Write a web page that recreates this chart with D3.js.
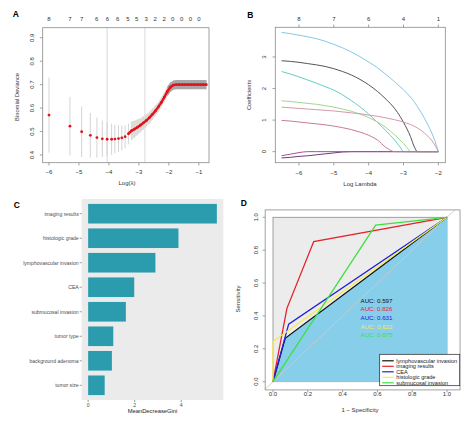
<!DOCTYPE html>
<html><head><meta charset="utf-8">
<script src="https://cdn.jsdelivr.net/npm/d3@7"></script>
<style>
body{margin:0;background:#fff}
svg{display:block}
text{font-family:"Liberation Sans",Arial,Helvetica,sans-serif}
</style>
</head><body>
<svg id="chart" width="474" height="422"></svg>
<script>
// ===== Panel A: cross-validated binomial deviance =====
const cvLogLambda = [-6.0,-5.3,-4.91,-4.62,-4.4,-4.22,-4.06,-3.91,-3.8,-3.68,-3.57,-3.46,-3.35,-3.25,-3.15,-3.05,-2.95,-2.85,-2.75,-2.65,-2.55,-2.45,-2.35,-2.25,-2.15,-2.05,-1.95,-1.85,-1.75,-1.65,-1.55,-1.45,-1.35,-1.25,-1.15,-1.05,-0.95,-0.85,-0.75];
const cvMean = [0.570,0.523,0.499,0.484,0.474,0.469,0.467,0.467,0.468,0.470,0.473,0.478,0.490,0.503,0.510,0.518,0.527,0.537,0.547,0.559,0.573,0.588,0.605,0.624,0.647,0.671,0.689,0.698,0.700,0.700,0.700,0.700,0.700,0.700,0.700,0.700,0.700,0.700,0.700];
const cvSD = [0.160,0.125,0.108,0.095,0.085,0.078,0.072,0.066,0.061,0.057,0.053,0.049,0.045,0.040,0.036,0.033,0.030,0.028,0.026,0.025,0.024,0.023,0.022,0.022,0.021,0.021,0.020,0.020,0.020,0.020,0.020,0.020,0.020,0.020,0.020,0.020,0.020,0.020,0.020];
const cvTopPos = [-6,-5.3,-4.91,-4.41,-4.05,-3.71,-3.37,-3.07,-2.76,-2.46,-2.16,-1.87,-1.57,-1.28,-1.0];
const cvTopLabels = ["8","7","7","6","6","6","5","5","3","2","2","0","0","0","0"];
const cvRefLines = [-4.06,-2.8];
const cvXTicks = [-6,-5,-4,-3,-2,-1];
const cvYTicks = [0.4,0.5,0.6,0.7,0.8,0.9];

// ===== Panel B: coefficient paths =====
const pathLogLambda = [-6.5,-6.25,-6.0,-5.75,-5.5,-5.25,-5.0,-4.75,-4.5,-4.25,-4.0,-3.75,-3.5,-3.25,-3.1,-3.0,-2.9,-2.8,-2.7,-2.6,-2.5,-2.4,-2.3,-2.2,-2.1,-2.0];
const coefLightBlue = [3.78,3.74,3.69,3.64,3.58,3.50,3.40,3.29,3.16,3.01,2.84,2.66,2.44,2.21,2.06,1.96,1.85,1.73,1.59,1.43,1.25,1.06,0.85,0.62,0.35,0];
const coefDark = [2.88,2.86,2.83,2.79,2.75,2.70,2.63,2.54,2.43,2.29,2.12,1.91,1.66,1.36,1.12,0.93,0.72,0.48,0.18,0,0,0,0,0,0,0];
const coefTeal = [2.54,2.46,2.37,2.27,2.17,2.06,1.95,1.80,1.62,1.42,1.19,0.93,0.66,0.36,0.15,0,0,0,0,0,0,0,0,0,0,0];
const coefGreen = [1.61,1.59,1.56,1.53,1.50,1.46,1.41,1.35,1.28,1.19,1.08,0.94,0.76,0.53,0.37,0.26,0.13,0,0,0,0,0,0,0,0,0];
const coefPurple = [-0.20,-0.18,-0.15,-0.13,-0.10,-0.07,-0.04,-0.01,0,0,0,0,0,0,0,0,0,0,0,0,0,0,0,0,0,0];
const coefMagenta = [-0.13,-0.08,-0.03,0,0,0,0,0,0,0,0,0,0,0,0,0,0,0,0,0,0,0,0,0,0,0];
const coefPink = [1.41,1.39,1.37,1.35,1.33,1.31,1.29,1.26,1.23,1.20,1.16,1.12,1.07,1.01,0.97,0.94,0.90,0.86,0.81,0.75,0.68,0.59,0.49,0.37,0.21,0];
const coefRose = [0.99,0.97,0.94,0.91,0.88,0.85,0.81,0.76,0.70,0.62,0.52,0.37,0.13,0,0,0,0,0,0,0,0,0,0,0,0,0];
const pathTopPos = [-6,-5,-4,-3,-2];
const pathTopLabels = ["8","7","6","4","1"];
const pathXTicks = [-6,-5,-4,-3,-2];
const pathYTicks = [0,1,2,3];

// ===== Panel C: random forest importance =====
const giniVars = ["imaging results","histologic grade","lymphovascular invasion","CEA","submucosal invasion","tumor type","background adenoma","tumor size"];
const giniValues = [5.53,3.88,2.89,1.98,1.62,1.08,1.02,0.71];
const giniTicks = [0,2,4];

// ===== Panel D: ROC curves =====
const rocNames = ["lymphovascular invasion","imaging results","CEA","histologic grade","submucosal invasion"];
const rocAUC = ["0.597","0.826","0.631","0.622","0.675"];
const rocLymphFPR = [0,0.07,1],        rocLymphTPR = [0,0.264,1];
const rocImagingFPR = [0,0.08,0.234,1], rocImagingTPR = [0,0.446,0.852,1];
const rocCeaFPR = [0,0.09,1],          rocCeaTPR = [0,0.35,1];
const rocHistoFPR = [0,0,1],           rocHistoTPR = [0,0.244,1];
const rocSubmFPR = [0,0.59,1],         rocSubmTPR = [0,0.953,1];
const rocTicks = [0,0.2,0.4,0.6,0.8,1.0];

// ======================================================
const svg = d3.select("#chart");
const TXT = "#333";
const FRAME = "#8a8a8a";
const fmtMinus = d => (d < 0 ? "\u2212" + Math.abs(d) : String(d));

function panelLabel(t, x, y) {
  svg.append("text").attr("x", x).attr("y", y).attr("font-size", 8.5)
    .attr("font-weight", "bold").attr("text-anchor", "middle").text(t);
}
function vtext(g, t, x, y, size, color) {
  g.append("text").attr("transform", `translate(${x},${y}) rotate(-90)`)
    .attr("text-anchor", "middle").attr("font-size", size).attr("fill", color || TXT).text(t);
}

// ---------------- Panel A ----------------
(function () {
  const g = svg.append("g");
  const x = d3.scaleLinear().domain([-6.21, -0.66]).range([42.7, 209]);
  const y = d3.scaleLinear().domain([0.367, 0.943]).range([162.7, 27.7]);
  const pts = cvLogLambda.map((l, i) => ({ l, m: cvMean[i], s: cvSD[i] }));

  // reference lines
  cvRefLines.forEach(v => g.append("line").attr("x1", x(v)).attr("x2", x(v))
    .attr("y1", 27.7).attr("y2", 162.7).attr("stroke", "#d0d0d0").attr("stroke-width", 0.8));

  // error bars
  g.selectAll(".eb").data(pts).enter().append("line")
    .attr("x1", d => x(d.l)).attr("x2", d => x(d.l))
    .attr("y1", d => y(d.m - d.s)).attr("y2", d => y(d.m + d.s))
    .attr("stroke", "#cfcfcf").attr("stroke-width", 0.9);
  // dense band of overlapping error bars
  const area = d3.area().x(d => x(d.l)).y0(d => y(d.m - d.s)).y1(d => y(d.m + d.s));
  g.append("path").datum(pts.filter(d => d.l >= -3.25 && d.l <= -1.95))
    .attr("d", area).attr("fill", "#dcd8d3").attr("opacity", 0.85);
  g.append("path").datum(pts.filter(d => d.l >= -2.05))
    .attr("d", area).attr("fill", "#a7a7a7");
  // points
  const dense = pts.filter(d => d.l >= -3.35);
  g.append("path").datum(dense)
    .attr("d", d3.line().x(d => x(d.l)).y(d => y(d.m)))
    .attr("fill", "none").attr("stroke", "#e0141e").attr("stroke-width", 2.4);
  g.selectAll(".pt").data(pts).enter().append("circle")
    .attr("cx", d => x(d.l)).attr("cy", d => y(d.m)).attr("r", 1.4)
    .attr("fill", "#e0141e");

  // frame
  g.append("rect").attr("x", 42.7).attr("y", 27.7).attr("width", 166.3).attr("height", 135)
    .attr("fill", "none").attr("stroke", FRAME).attr("stroke-width", 0.8);
  // x axis
  cvXTicks.forEach(t => {
    g.append("line").attr("x1", x(t)).attr("x2", x(t)).attr("y1", 162.7).attr("y2", 165.5)
      .attr("stroke", FRAME).attr("stroke-width", 0.8);
    g.append("text").attr("x", x(t)).attr("y", 174).attr("text-anchor", "middle")
      .attr("font-size", 6).attr("fill", TXT).text(fmtMinus(t));
  });
  // y axis
  cvYTicks.forEach(t => {
    g.append("line").attr("x1", 42.7).attr("x2", 39.9).attr("y1", y(t)).attr("y2", y(t))
      .attr("stroke", FRAME).attr("stroke-width", 0.8);
    vtext(g, t.toFixed(1), 34, y(t), 6);
  });
  // top labels
  cvTopPos.forEach((p, i) => g.append("text").attr("x", x(p)).attr("y", 21)
    .attr("text-anchor", "middle").attr("font-size", 6).attr("fill", TXT).text(cvTopLabels[i]));
  g.append("text").attr("x", 127).attr("y", 185).attr("text-anchor", "middle")
    .attr("font-size", 6).attr("fill", TXT).text("Log(\u03bb)");
  vtext(g, "Binomial Deviance", 19, 97, 5.8);
  panelLabel("A", 15.7, 16.5);
})();

// ---------------- Panel B ----------------
(function () {
  const g = svg.append("g");
  const x = d3.scaleLinear().domain([-6.68, -1.8]).range([275.3, 445.3]);
  const y = d3.scaleLinear().domain([-0.35, 3.94]).range([162.7, 27.3]);
  const series = [
    { v: coefLightBlue, c: "#86c9e4" },
    { v: coefDark, c: "#555555" },
    { v: coefTeal, c: "#62cfc6" },
    { v: coefGreen, c: "#a3d493" },
    { v: coefPurple, c: "#6c3c7c" },
    { v: coefMagenta, c: "#b04f8c" },
    { v: coefPink, c: "#d39aad" },
    { v: coefRose, c: "#c97c95" }
  ];
  const line = d3.line().x((d, i) => x(pathLogLambda[i])).y(d => y(d)).curve(d3.curveMonotoneX);
  series.forEach(s => g.append("path").attr("d", line(s.v)).attr("fill", "none")
    .attr("stroke", s.c).attr("stroke-width", 1));

  g.append("rect").attr("x", 275.3).attr("y", 27.3).attr("width", 170).attr("height", 135.4)
    .attr("fill", "none").attr("stroke", FRAME).attr("stroke-width", 0.8);
  pathXTicks.forEach(t => {
    g.append("line").attr("x1", x(t)).attr("x2", x(t)).attr("y1", 162.7).attr("y2", 165.5)
      .attr("stroke", FRAME).attr("stroke-width", 0.8);
    g.append("text").attr("x", x(t)).attr("y", 175).attr("text-anchor", "middle")
      .attr("font-size", 6).attr("fill", TXT).text(fmtMinus(t));
  });
  pathYTicks.forEach(t => {
    g.append("line").attr("x1", 275.3).attr("x2", 272.5).attr("y1", y(t)).attr("y2", y(t))
      .attr("stroke", FRAME).attr("stroke-width", 0.8);
    vtext(g, String(t), 266, y(t), 6);
  });
  pathTopPos.forEach((p, i) => {
    g.append("line").attr("x1", x(p)).attr("x2", x(p)).attr("y1", 27.3).attr("y2", 24.5)
      .attr("stroke", FRAME).attr("stroke-width", 0.8);
    g.append("text").attr("x", x(p)).attr("y", 21).attr("text-anchor", "middle")
      .attr("font-size", 6).attr("fill", TXT).text(pathTopLabels[i]);
  });
  g.append("text").attr("x", 360).attr("y", 186).attr("text-anchor", "middle")
    .attr("font-size", 6).attr("fill", TXT).text("Log Lambda");
  vtext(g, "Coefficients", 251, 95, 5.8);
  panelLabel("B", 250.3, 18);
})();

// ---------------- Panel C ----------------
(function () {
  const g = svg.append("g");
  const left = 81.7, right = 223.3, top = 199, bottom = 400;
  const maxV = d3.max(giniValues);
  const x = d3.scaleLinear().domain([-0.05 * maxV, maxV * 1.05]).range([left, right]);
  const y = d3.scaleBand().domain(giniVars).range([top, bottom]).paddingInner(0.2).paddingOuter(0.2);
  g.append("rect").attr("x", left).attr("y", top).attr("width", right - left).attr("height", bottom - top)
    .attr("fill", "#ebebeb");
  g.selectAll(".bar").data(giniVars).enter().append("rect")
    .attr("x", x(0)).attr("y", d => y(d)).attr("height", y.bandwidth())
    .attr("width", (d, i) => x(giniValues[i]) - x(0)).attr("fill", "#2b9bae");
  giniVars.forEach(v => {
    const cy = y(v) + y.bandwidth() / 2;
    g.append("line").attr("x1", left - 2).attr("x2", left).attr("y1", cy).attr("y2", cy)
      .attr("stroke", "#333").attr("stroke-width", 0.5);
    g.append("text").attr("x", left - 3).attr("y", cy + 1.8).attr("text-anchor", "end")
      .attr("font-size", 5.1).attr("fill", "#4d4d4d").text(v);
  });
  giniTicks.forEach(t => {
    g.append("line").attr("x1", x(t)).attr("x2", x(t)).attr("y1", bottom).attr("y2", bottom + 2)
      .attr("stroke", "#333").attr("stroke-width", 0.5);
    g.append("text").attr("x", x(t)).attr("y", bottom + 7).attr("text-anchor", "middle")
      .attr("font-size", 5.1).attr("fill", "#4d4d4d").text(t);
  });
  g.append("text").attr("x", (left + right) / 2).attr("y", 413).attr("text-anchor", "middle")
    .attr("font-size", 5.8).attr("fill", "#222").text("MeanDecreaseGini");
  panelLabel("C", 16.7, 208);
})();

// ---------------- Panel D ----------------
(function () {
  const g = svg.append("g");
  const x = d3.scaleLinear().domain([0, 1]).range([273, 447]);
  const y = d3.scaleLinear().domain([0, 1]).range([381.7, 217.3]);
  const xl = x(-0.045), xr = x(1.075), yt = y(1.045), yb = y(-0.05);

  // max AUC polygon
  g.append("rect").attr("x", x(0)).attr("y", y(1)).attr("width", x(1) - x(0)).attr("height", y(0) - y(1))
    .attr("fill", "#ececec").attr("stroke", "#8c8c8c").attr("stroke-width", 0.8);
  // AUC polygon of first curve
  const polyPts = rocLymphFPR.map((f, i) => [x(f), y(rocLymphTPR[i])]).concat([[x(1), y(0)]]);
  g.append("path").attr("d", d3.line()(polyPts) + "Z").attr("fill", "#87ceeb");
  // identity line
  g.append("line").attr("x1", x(-0.045)).attr("y1", y(-0.045)).attr("x2", x(1.045)).attr("y2", y(1.045))
    .attr("stroke", "#c9c9c9").attr("stroke-width", 0.9);

  const curves = [
    { f: rocLymphFPR, t: rocLymphTPR, c: "#111111" },
    { f: rocImagingFPR, t: rocImagingTPR, c: "#e3232c" },
    { f: rocCeaFPR, t: rocCeaTPR, c: "#2020e0" },
    { f: rocHistoFPR, t: rocHistoTPR, c: "#f4ea52" },
    { f: rocSubmFPR, t: rocSubmTPR, c: "#3fe03f" }
  ];
  const line = d3.line();
  curves.forEach(cv => g.append("path")
    .attr("d", line(cv.f.map((f, i) => [x(f), y(cv.t[i])])))
    .attr("fill", "none").attr("stroke", cv.c).attr("stroke-width", 1.3));

  // AUC labels
  const aucY = [303, 311.4, 320.2, 328.6, 337];
  rocAUC.forEach((a, i) => g.append("text").attr("x", 360.5).attr("y", aucY[i])
    .attr("font-size", 6.2).attr("fill", curves[i].c).text("AUC: " + a));

  // frame
  g.append("rect").attr("x", xl).attr("y", yt).attr("width", xr - xl).attr("height", yb - yt)
    .attr("fill", "none").attr("stroke", FRAME).attr("stroke-width", 0.8);
  rocTicks.forEach(t => {
    g.append("line").attr("x1", x(t)).attr("x2", x(t)).attr("y1", yb).attr("y2", yb + 2.5)
      .attr("stroke", FRAME).attr("stroke-width", 0.8);
    g.append("text").attr("x", x(t)).attr("y", 396).attr("text-anchor", "middle")
      .attr("font-size", 6).attr("fill", TXT).text(t.toFixed(1));
    g.append("line").attr("x1", xl).attr("x2", xl - 2.5).attr("y1", y(t)).attr("y2", y(t))
      .attr("stroke", FRAME).attr("stroke-width", 0.8);
    vtext(g, t.toFixed(1), 257.5, y(t), 6);
  });
  g.append("text").attr("x", 360).attr("y", 412).attr("text-anchor", "middle")
    .attr("font-size", 6).attr("fill", TXT).text("1 \u2212 Specificity");
  vtext(g, "Sensitivity", 239.5, 299, 6);

  // legend
  const lx = 379.7, ly = 354.3, lw = 80, lh = 31.4;
  g.append("rect").attr("x", lx).attr("y", ly).attr("width", lw).attr("height", lh)
    .attr("fill", "#fff").attr("stroke", "#222").attr("stroke-width", 0.7);
  rocNames.forEach((n, i) => {
    const cy = ly + 6.5 + i * 5.5;
    g.append("line").attr("x1", lx + 2.5).attr("x2", lx + 14).attr("y1", cy).attr("y2", cy)
      .attr("stroke", curves[i].c).attr("stroke-width", 1.2);
    g.append("text").attr("x", lx + 16.6).attr("y", cy + 2).attr("font-size", 5.6)
      .attr("fill", "#222").text(n);
  });
  panelLabel("D", 243.7, 206);
})();
</script>
</body></html>
